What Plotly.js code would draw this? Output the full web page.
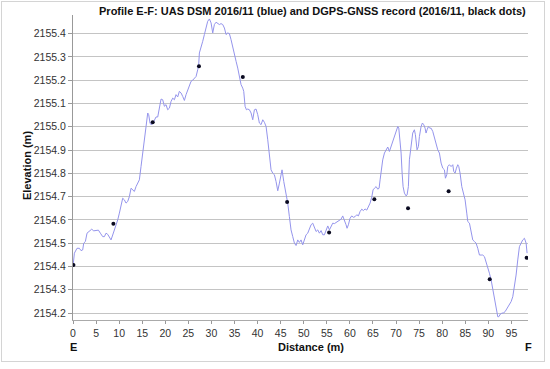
<!DOCTYPE html>
<html>
<head>
<meta charset="utf-8">
<script src="https://cdn.plot.ly/plotly-3.0.1.min.js"></script>
<style>
  html, body { margin: 0; padding: 0; background: #fff; }
  #wrap { position: relative; width: 550px; height: 369px; }
  #chart { width: 550px; height: 369px; }
  #frame { position: absolute; left: 1px; top: 1px; width: 544px; height: 361px;
           border: 1px solid #d4d4d4; pointer-events: none; box-sizing: border-box; }
</style>
</head>
<body>
<div id="wrap"><div id="chart"></div><div id="frame"></div></div>
<script>
// UAS DSM profile (blue line): distance (m) and elevation (m)
const dsmDistance = [
  0, 0.3, 0.87, 1.38, 1.74, 2.1, 2.32, 2.68, 3.04, 3.55, 4.05, 4.49, 4.99, 5.5, 5.93, 6.44, 6.8, 7.16, 7.52, 7.88,
  8.24, 8.6, 8.97, 9.33, 9.69, 10.05, 10.41, 10.77, 11.13, 11.49, 11.85, 12.22, 12.58, 12.94, 13.3, 13.66, 14.02, 14.38,
  14.74, 15.1, 15.47, 15.83, 16.19, 16.4, 16.69, 16.9, 17.27, 17.63, 17.99, 18.36,
  19.08, 19.44, 19.8, 20.16, 20.52, 20.89, 21.25, 21.61, 21.97, 22.33, 22.69, 23.05, 23.42, 23.78, 24.14, 24.5, 24.86,
  25.22, 25.58, 25.94, 26.3, 26.67, 27.03, 27.24, 27.39, 27.75, 28.11, 28.47, 28.83, 29.19, 29.56, 29.92, 30.28, 30.64,
  31.0, 31.36, 31.72, 32.08, 32.45, 32.81, 33.17, 33.53, 33.89, 34.25, 34.61, 34.98, 35.34, 35.7, 36.06, 36.42, 36.78,
  37.0, 37.29, 37.58, 37.87, 38.23, 38.59, 38.95, 39.31, 39.67, 40.03, 40.39, 40.75, 41.12, 41.48, 41.84, 42.2, 42.56,
  42.92, 43.28, 43.64, 44.0, 44.37, 44.73, 45.09, 45.3, 45.67, 45.95, 46.32, 46.53, 46.89, 47.25, 47.62, 47.98, 48.34,
  48.7, 49.06, 49.42, 49.78, 50.15, 50.51, 50.87, 51.23, 51.59, 51.95, 52.31, 52.68, 53.04, 53.4, 53.76, 54.12, 54.48,
  54.85, 55.21, 55.57, 55.93, 56.29, 56.65, 57.01, 57.37, 57.73, 58.09, 58.45, 58.81, 59.17, 59.39, 59.68, 60.04, 60.4,
  60.76, 61.13, 61.49, 61.85, 62.21, 62.57, 62.93, 63.29, 63.66, 64.02, 64.38, 64.74, 65.03, 65.32, 65.68, 66.04, 66.33,
  66.55, 66.76, 67.12, 67.49, 67.85, 68.21, 68.57, 68.93, 69.29, 69.65, 70.02, 70.38, 70.6, 70.81, 71.1, 71.32, 71.53,
  71.82, 72.18, 72.39, 72.68, 72.9, 73.26, 73.62, 73.98, 74.2, 74.56, 74.85, 75.07, 75.43, 75.72, 76.0, 76.3, 76.51,
  76.73, 77.02, 77.3, 77.6, 77.96, 78.32, 78.68, 79.04, 79.4, 79.77, 80.13, 80.49, 80.71, 81.0, 81.21, 81.57, 81.93,
  82.3, 82.51, 82.8, 83.09, 83.38, 83.6, 83.88, 84.25, 84.61, 84.97, 85.33, 85.55, 85.91, 86.27, 86.63, 86.99, 87.35,
  87.71, 88.08, 88.44, 88.8, 89.16, 89.52, 89.88, 90.24, 90.61, 90.97, 91.33, 91.69, 92.05, 92.27, 92.63, 92.92, 93.35,
  93.64, 94.07, 94.58, 94.94, 95.3, 95.66, 96.02, 96.38, 96.74, 97.1, 97.46, 97.83, 98.19, 98.4
];
const dsmElevation = [
  2154.400, 2154.457, 2154.478, 2154.478, 2154.468, 2154.471, 2154.500, 2154.507, 2154.543, 2154.553, 2154.560, 2154.553,
  2154.553, 2154.556, 2154.543, 2154.528, 2154.528, 2154.543, 2154.538, 2154.528, 2154.514, 2154.535, 2154.556, 2154.578,
  2154.600, 2154.629, 2154.657, 2154.693, 2154.686, 2154.672, 2154.679, 2154.700, 2154.736, 2154.729, 2154.722, 2154.743,
  2154.758, 2154.772, 2154.829, 2154.894, 2154.944, 2155.001, 2155.059, 2155.052, 2155.016, 2155.009, 2155.013, 2155.027,
  2155.042, 2155.042,
  2155.119, 2155.116, 2155.088, 2155.095, 2155.073, 2155.080, 2155.109, 2155.123, 2155.116, 2155.138, 2155.128, 2155.152,
  2155.145, 2155.130, 2155.113, 2155.138, 2155.159, 2155.181, 2155.195, 2155.200, 2155.209, 2155.216, 2155.245, 2155.267,
  2155.317, 2155.338, 2155.367, 2155.396, 2155.424, 2155.453, 2155.463, 2155.446, 2155.403, 2155.439, 2155.449, 2155.443,
  2155.439, 2155.443, 2155.439, 2155.424, 2155.396, 2155.403, 2155.400, 2155.374, 2155.338, 2155.310, 2155.281, 2155.252,
  2155.216, 2155.181, 2155.166, 2155.152, 2155.088, 2155.073, 2155.076, 2155.073, 2155.059, 2155.030,
  2155.073, 2155.076, 2155.052, 2155.016, 2155.009, 2155.030, 2155.019, 2155.001, 2154.944, 2154.872, 2154.815, 2154.801,
  2154.794, 2154.765, 2154.725, 2154.758, 2154.808, 2154.815, 2154.765, 2154.736, 2154.686, 2154.672, 2154.614, 2154.557,
  2154.528, 2154.500, 2154.490, 2154.514, 2154.503, 2154.514, 2154.493, 2154.514, 2154.536, 2154.543, 2154.564, 2154.579,
  2154.586, 2154.564, 2154.550, 2154.557, 2154.543, 2154.554, 2154.536, 2154.536, 2154.557, 2154.574, 2154.557, 2154.571,
  2154.586, 2154.584, 2154.589, 2154.593, 2154.597, 2154.603, 2154.617, 2154.600, 2154.579, 2154.564, 2154.579, 2154.607,
  2154.617, 2154.611, 2154.614, 2154.622, 2154.617, 2154.636, 2154.646, 2154.640, 2154.647, 2154.642, 2154.657, 2154.672,
  2154.698, 2154.729, 2154.736, 2154.743, 2154.732, 2154.736, 2154.772, 2154.815, 2154.858, 2154.887, 2154.904, 2154.913,
  2154.894, 2154.915, 2154.937, 2154.966, 2154.987, 2155.001, 2154.994, 2154.958, 2154.887, 2154.801, 2154.743, 2154.715,
  2154.703, 2154.707, 2154.743, 2154.858, 2154.930, 2154.973, 2154.987, 2154.966, 2154.901, 2154.915, 2154.958, 2155.001,
  2155.016, 2155.009, 2154.994, 2154.973, 2154.987, 2155.001, 2154.994, 2154.994, 2154.980, 2154.951, 2154.923, 2154.901,
  2154.887, 2154.844, 2154.822, 2154.815, 2154.779, 2154.794, 2154.829, 2154.837, 2154.829, 2154.837, 2154.808, 2154.801,
  2154.822, 2154.837, 2154.829, 2154.801, 2154.743, 2154.715, 2154.686, 2154.629, 2154.593, 2154.586, 2154.543, 2154.514,
  2154.507, 2154.500, 2154.478, 2154.449, 2154.449, 2154.449, 2154.442, 2154.421, 2154.399, 2154.371, 2154.342, 2154.299,
  2154.256, 2154.213, 2154.184, 2154.184, 2154.196, 2154.199, 2154.201, 2154.206, 2154.220, 2154.234, 2154.249, 2154.270,
  2154.313, 2154.363, 2154.428, 2154.485, 2154.500, 2154.514, 2154.521, 2154.500, 2154.457
];
// DGPS-GNSS record (black dots)
const gnssDistance = [0.1, 8.75, 17.27, 27.3, 36.8, 46.4, 55.5, 65.3, 72.6, 81.4, 90.3, 98.3];
const gnssElevation = [2154.406, 2154.583, 2155.019, 2155.26, 2155.214, 2154.677, 2154.546, 2154.689, 2154.65, 2154.723, 2154.345, 2154.437];

const xTickVals = [0, 5, 10, 15, 20, 25, 30, 35, 40, 45, 50, 55, 60, 65, 70, 75, 80, 85, 90, 95];
const yTickVals = [2154.2, 2154.3, 2154.4, 2154.5, 2154.6, 2154.7, 2154.8, 2154.9, 2155.0, 2155.1, 2155.2, 2155.3, 2155.4];
const yTickText = ['2154.2', '2154.3', '2154.4', '2154.5', '2154.6', '2154.7', '2154.8', '2154.9', '2155.0', '2155.1', '2155.2', '2155.3', '2155.4'];

const FONT = 'Liberation Sans, Arial, sans-serif';

const traces = [
  {
    x: dsmDistance, y: dsmElevation, type: 'scatter', mode: 'lines',
    line: { color: '#9494ec', width: 1 }, hoverinfo: 'skip'
  },
  {
    x: gnssDistance, y: gnssElevation, type: 'scatter', mode: 'markers',
    marker: { color: '#0a0a20', size: 4 }, hoverinfo: 'skip'
  }
];

const layout = {
  width: 550, height: 369,
  margin: { l: 73, r: 22, t: 15, b: 49 },
  paper_bgcolor: '#ffffff', plot_bgcolor: '#ffffff',
  showlegend: false,
  font: { family: FONT, color: '#333', size: 10.5 },
  title: {
    text: 'Profile E-F: UAS DSM 2016/11 (blue) and DGPS-GNSS record (2016/11, black dots)',
    font: { family: FONT, size: 11, color: '#111', weight: 'bold' },
    xref: 'paper', x: 0.995, xanchor: 'right',
    yref: 'container', y: 0.97, yanchor: 'middle'
  },
  xaxis: {
    range: [0, 98.6], tickvals: xTickVals, ticks: 'outside', ticklen: 3, tickcolor: '#999',
    showgrid: false, zeroline: false, showline: true, linecolor: '#aaa', linewidth: 1,
    tickfont: { family: FONT, size: 10.5, color: '#333' }, fixedrange: true
  },
  yaxis: {
    range: [2154.17, 2155.48], tickvals: yTickVals, ticktext: yTickText, ticks: 'outside', ticklen: 4,
    tickcolor: '#999', showgrid: true, gridcolor: '#c4c4c4', gridwidth: 1,
    zeroline: false, showline: true, linecolor: '#999', linewidth: 1,
    tickfont: { family: FONT, size: 10.5, color: '#333' }, fixedrange: true
  },
  annotations: [
    { text: '<b>Distance (m)</b>', xref: 'paper', yref: 'paper', x: 0.524, y: -0.087,
      xanchor: 'center', yanchor: 'middle', showarrow: false, borderpad: 0, font: { family: FONT, size: 11, color: '#111' } },
    { text: '<b>E</b>', xref: 'x', yref: 'paper', x: 0, y: -0.087,
      xanchor: 'center', yanchor: 'middle', showarrow: false, borderpad: 0, font: { family: FONT, size: 11, color: '#111' } },
    { text: '<b>F</b>', xref: 'paper', yref: 'paper', x: 1, y: -0.087,
      xanchor: 'center', yanchor: 'middle', showarrow: false, borderpad: 0, font: { family: FONT, size: 11, color: '#111' } },
    { text: '<b>Elevation (m)</b>', xref: 'paper', yref: 'paper', x: -0.101, y: 0.505, textangle: -90,
      xanchor: 'center', yanchor: 'middle', showarrow: false, font: { family: FONT, size: 11, color: '#111' } }
  ]
};

Plotly.newPlot('chart', traces, layout, { displayModeBar: false, staticPlot: true });
</script>
</body>
</html>
